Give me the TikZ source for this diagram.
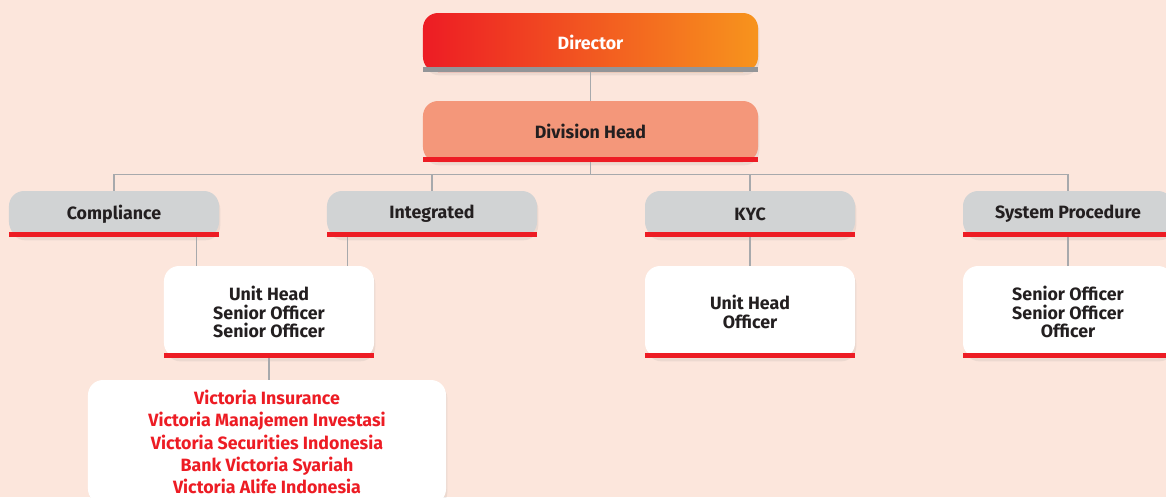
\documentclass[tikz,border=0pt]{standalone}
\usepackage{fontspec}
\setmainfont{Fira Sans}
\usetikzlibrary{shadows}
\definecolor{bgpeach}{HTML}{FCE6DC}
\definecolor{vicred}{HTML}{ED1C24}
\definecolor{vicorange}{HTML}{F7941D}
\definecolor{salmon}{HTML}{F4977A}
\definecolor{boxgrey}{HTML}{D1D3D4}
\definecolor{linegrey}{HTML}{A7A9AC}
\definecolor{bargrey}{HTML}{939598}
\definecolor{ink}{HTML}{231F20}
\begin{document}
\begin{tikzpicture}[x=0.03cm,y=-0.03cm,
	box/.style={rectangle, rounded corners=0.45cm, minimum width=6.3cm, align=center,
		font=\fontsize{15.2}{15.7}\selectfont\bfseries, text=ink,
		drop shadow={opacity=0.12, shadow xshift=0.04cm, shadow yshift=-0.1cm}},
	head/.style={box, fill=boxgrey, minimum height=1.38cm},
	staff/.style={box, fill=white, minimum height=2.76cm},
	link/.style={draw=linegrey, line width=1pt}]
	\clip (0,0) rectangle (1166,497);
	\fill[bgpeach] (0,0) rectangle (1166,497);

	\node[box, left color=vicred, right color=vicorange, text=white, minimum width=10.05cm, minimum height=1.77cm] (dir) at (590.5, 42.5) {Director};
	\node[box, fill=salmon, minimum width=10.05cm, minimum height=1.83cm] (div) at (590.5,131.5) {Division Head};
	\node[head] (comp) at (114 ,214) {Compliance};
	\node[head] (intg) at (432 ,214) {Integrated};
	\node[head] (kyc)  at (750 ,214) {KYC};
	\node[head] (sysp) at (1068,214) {System Procedure};
	\node[staff] (uh1) at (269 ,312) {Unit Head\\Senior Officer\\Senior Officer};
	\node[staff] (uh2) at (750 ,312) {Unit Head\\Officer};
	\node[staff] (so)  at (1068,312) {Senior Officer\\Senior Officer\\Officer};
	\node[box, fill=white, text=vicred, minimum width=10.74cm, minimum height=3.72cm,
		font=\fontsize{15.2}{19}\selectfont\bfseries] (vic) at (267,442)
		{Victoria Insurance\\Victoria Manajemen Investasi\\Victoria Securities Indonesia\\Bank Victoria Syariah\\Victoria Alife Indonesia};

	% bars under the boxes
	\fill[bargrey] ([yshift=0.15cm]dir.south west) rectangle (dir.south east);
	\foreach \n in {div,comp,intg,kyc,sysp,uh1,uh2,so}
	{	\fill[vicred] ([yshift=0.15cm]\n.south west) rectangle (\n.south east);
	}

	\def\down {dir/div, kyc/uh2, sysp/so, uh1/vic}  % straight drops
	\foreach \u\v in \down
	{	\draw[link] (\u.south) -- (\u.south |- \v.north);
	}
	\draw[link] (div.south) -- ++(0,13);
	\draw[link] (comp.north) -- ++(0,-16) -| (sysp.north);  % bus line
	\foreach \b in {intg,kyc}
	{	\draw[link] (\b.north) -- ++(0,-16);
	}
	\draw[link] ([xshift=0.99cm]uh1.north west) -- ([xshift=0.99cm]uh1.north west |- comp.south);
	\draw[link] ([xshift=-0.81cm]uh1.north east) -- ([xshift=-0.81cm]uh1.north east |- intg.south);
\end{tikzpicture}
\end{document}
